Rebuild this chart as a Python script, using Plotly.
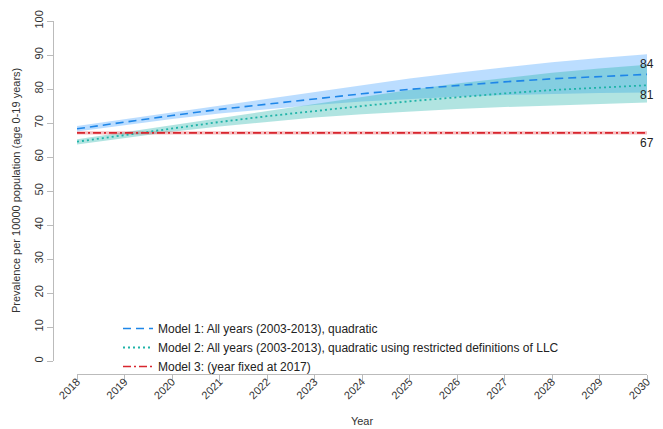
import plotly.graph_objects as go

years = list(range(2018, 2031))

m1_mean = [68.3, 70.3, 72.2, 74.0, 75.6, 77.2, 78.6, 79.9, 81.1, 82.1, 83.0, 83.7, 84.3]
m1_upper = [69.1, 71.1, 73.2, 75.2, 77.3, 79.3, 81.3, 83.1, 84.8, 86.4, 87.9, 89.1, 90.2]
m1_lower = [67.5, 69.4, 71.2, 72.8, 74.1, 75.3, 76.3, 77.1, 77.7, 78.2, 78.6, 78.8, 79.0]

m2_mean = [64.5, 66.5, 68.5, 70.3, 72.0, 73.6, 75.0, 76.4, 77.6, 78.7, 79.7, 80.5, 81.1]
m2_upper = [65.2, 67.3, 69.3, 71.3, 73.4, 75.5, 77.6, 79.7, 81.6, 83.3, 84.8, 86.0, 87.1]
m2_lower = [63.7, 65.6, 67.4, 69.0, 70.4, 71.6, 72.6, 73.4, 74.1, 74.7, 75.2, 75.6, 76.0]

m3_mean = [67.1] * 13
m3_upper = [67.6] * 13
m3_lower = [66.6] * 13

names = [
    "Model 1: All years (2003-2013), quadratic",
    "Model 2: All years (2003-2013), quadratic using restricted definitions of LLC",
    "Model 3: (year fixed at 2017)",
]
y_ticks = list(range(0, 101, 10))
y_title = "Prevalence per 10000 population (age 0-19 years)"
x_title = "Year"

FONT = "Liberation Sans, Arial, sans-serif"
# page body has an 8px default margin; size the figure to compensate
W, H = 655, 421
ML, MR, MT, MB = 45, 16, 13, 55
plot_w = W - ML - MR
plot_h = H - MT - MB
x_offset = 24  # px gap between y-axis line and first year
y_offset = 13  # px gap between x-axis line and y=0
legend_top = 60  # px above plot-area bottom
ytitle_px = -37  # px left of y-axis line

series = [
    (m1_mean, m1_lower, m1_upper, "#1E86E8", "rgba(30,144,255,0.30)", "8px,5px", 1.6, 10),
    (m2_mean, m2_lower, m2_upper, "#1FB3A8", "rgba(32,178,170,0.35)", "2px,3px", 1.8, -10),
    (m3_mean, m3_lower, m3_upper, "#D8262E", "rgba(225,40,50,0.30)", "8px,3px,2px,3px", 1.6, -10),
]

fig = go.Figure()
for mean, lo, hi, col, fill, dash, lw, _ in series:
    fig.add_trace(go.Scatter(x=years, y=hi, mode="lines", line=dict(width=0),
                             showlegend=False, hoverinfo="skip"))
    fig.add_trace(go.Scatter(x=years, y=lo, mode="lines", line=dict(width=0),
                             fill="tonexty", fillcolor=fill, showlegend=False, hoverinfo="skip"))

for (mean, lo, hi, col, fill, dash, lw, _), nm in zip(series, names):
    fig.add_trace(go.Scatter(x=years, y=mean, mode="lines", name=nm,
                             line=dict(color=col, width=lw, dash=dash)))

for mean, lo, hi, col, fill, dash, lw, shift in series:
    fig.add_annotation(x=years[-1], y=mean[-1], xref="x", yref="y",
                       text=str(round(mean[-1])), showarrow=False,
                       yshift=shift, font=dict(family=FONT, size=12, color="#222"))

fig.add_annotation(x=ytitle_px / plot_w, y=(y_offset / plot_h + 1) / 2, xref="paper", yref="paper",
                   text=y_title, textangle=-90, showarrow=False, xanchor="center", yanchor="middle",
                   font=dict(family=FONT, size=11, color="#333"))

axis_common = dict(showgrid=False, zeroline=False, showline=True, linecolor="#BBBBBB",
                   linewidth=1, ticks="outside", tickcolor="#BBBBBB", ticklen=6,
                   ticklabeloverflow="allow",
                   tickfont=dict(family=FONT, size=11, color="#333"), automargin=False)

fig.update_layout(
    width=W, height=H,
    margin=dict(l=ML, r=MR, t=MT, b=MB),
    paper_bgcolor="white", plot_bgcolor="white",
    xaxis=dict(domain=[x_offset / plot_w, 1], range=[years[0], years[-1]],
               anchor="free", position=0, tickvals=years, tickangle=-45,
               ticklabelstandoff=-10,
               title=dict(text=x_title, font=dict(family=FONT, size=11, color="#333"), standoff=16),
               **axis_common),
    yaxis=dict(domain=[y_offset / plot_h, 1], range=[0, 100], anchor="free", position=0,
               tickvals=y_ticks, tickangle=-90,
               **axis_common),
    legend=dict(x=(118 - 53) / plot_w, y=legend_top / plot_h, xanchor="left", yanchor="top",
                bgcolor="rgba(0,0,0,0)", font=dict(family=FONT, size=12, color="#222"),
                tracegroupgap=0, traceorder="normal"),
    font=dict(family=FONT),
)

fig.write_html("out.html")
